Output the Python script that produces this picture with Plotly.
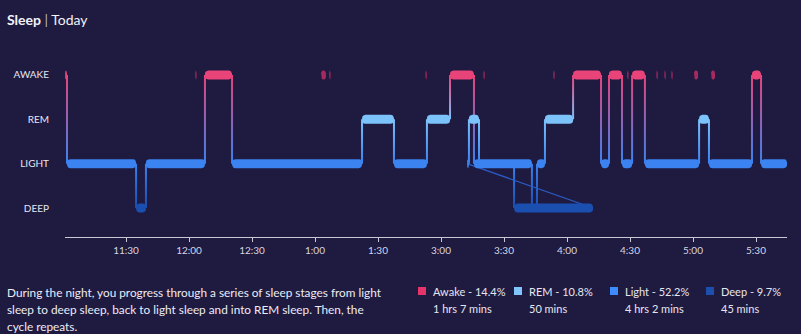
import math
import plotly.graph_objects as go

# ---------------- data ----------------
stage_labels = ["DEEP", "LIGHT", "REM", "AWAKE"]          # y tick labels, bottom -> top
stage_level = {"deep": 0, "light": 1, "rem": 2, "awake": 3}

# time axis: minutes from 11:00 along the plotted axis
tick_minutes = [30, 60, 90, 120, 150, 180, 210, 240, 270, 300, 330]
tick_labels = ["11:30", "12:00", "12:30", "1:00", "1:30", "3:00", "3:30",
               "4:00", "4:30", "5:00", "5:30"]

# hypnogram segments, in recorded order
seg_stage = ["awake", "light", "deep", "light", "awake", "light", "rem", "light",
             "rem", "awake", "light", "deep", "light", "rem", "light", "deep",
             "light", "rem", "awake", "light", "awake", "light", "awake", "light",
             "rem", "light", "awake", "light"]
seg_start = [0.95, 1.9, 34.8, 39.5, 67.6, 80.5, 142.4, 157.6,
             173.3, 184.3, 195.7, 214.8, 192.4, 193.3, 198.1, 223.3,
             225.7, 229.5, 242.9, 256.2, 260.0, 266.2, 271.0, 277.1,
             302.9, 307.6, 328.1, 332.4]
seg_end = [1.9, 34.8, 39.5, 67.6, 80.5, 142.4, 157.6, 173.3,
           184.3, 195.7, 214.8, 252.4, 193.3, 198.1, 223.3, 225.7,
           229.5, 242.9, 256.2, 260.0, 266.2, 271.0, 277.1, 302.9,
           307.6, 328.1, 332.4, 344.8]

# brief awakenings (not connected to the main trace)
blip_start = [63.0, 122.9, 126.8, 172.6, 200.2, 233.5, 268.7, 282.6, 286.4, 289.7, 300.5, 308.6]
blip_end = [63.6, 125.2, 127.4, 173.2, 200.8, 234.1, 269.3, 283.2, 287.0, 290.3, 302.4, 310.5]

# summary
summary_names = ["Awake", "REM", "Light", "Deep"]
summary_pct = ["14.4%", "10.8%", "52.2%", "9.7%"]
summary_time = ["1 hrs 7 mins", "50 mins", "4 hrs 2 mins", "45 mins"]

description = [
    "During the night, you progress through a series of sleep stages from light",
    "sleep to deep sleep, back to light sleep and into REM sleep. Then, the",
    "cycle repeats.",
]

# ---------------- styling ----------------
BG = "#1f1a40"
COLOR = {"awake": "#e8447a", "rem": "#7cc2fb", "light": "#3a83f0", "deep": "#1a4fb0"}
SWATCH = {"Awake": "#e4346a", "REM": "#80c6fc", "Light": "#3d8bff", "Deep": "#1c4fae"}
BLIP_COLOR = "#a8295f"
FONT = "Lato"

W, H = 801, 334
ML, MR, MT, MB = 65, 14, 60, 97
X_RANGE = [0.952, 344.76]
Y_RANGE = [-0.654, 3.338]
PX_PER_X = (W - ML - MR) / (X_RANGE[1] - X_RANGE[0])
PX_PER_Y = (H - MT - MB) / (Y_RANGE[1] - Y_RANGE[0])

BAR_HALF_PX = 4.5
BAR_RADIUS_PX = 3.2
LINK_HALF_PX = 1.0


def rounded_rect(x0, x1, yc, half_h_px, r_px, steps=6):
    hh = half_h_px / PX_PER_Y
    rx = min(r_px / PX_PER_X, (x1 - x0) / 2)
    ry = min(r_px / PX_PER_Y, hh)
    centers = [(x1 - rx, yc + hh - ry, 0), (x0 + rx, yc + hh - ry, 90),
               (x0 + rx, yc - hh + ry, 180), (x1 - rx, yc - hh + ry, 270)]
    xs, ys = [], []
    for cx, cy, a0 in centers:
        for k in range(steps + 1):
            a = math.radians(a0 + 90 * k / steps)
            xs.append(cx + rx * math.cos(a))
            ys.append(cy + ry * math.sin(a))
    xs += [xs[0], None]
    ys += [ys[0], None]
    return xs, ys


def paper_x(px):
    return (px - ML) / (W - ML - MR)


def paper_y(py):
    return (H - MB - py) / (H - MT - MB)


fig = go.Figure()

# ---- transitions between consecutive segments ----
links = {}
jumps = []
for i in range(len(seg_stage) - 1):
    a, b = seg_stage[i], seg_stage[i + 1]
    la, lb = stage_level[a], stage_level[b]
    if abs(seg_end[i] - seg_start[i + 1]) < 1e-6:
        x = seg_end[i]
        lo, hi = min(la, lb), max(la, lb)
        hw = LINK_HALF_PX / PX_PER_X
        xs, ys = links.setdefault((lo, hi), ([], []))
        xs += [x - hw, x + hw, x + hw, x - hw, x - hw, None]
        ys += [lo, lo, hi, hi, lo, None]
    else:
        jumps.append(([seg_end[i], seg_start[i + 1]], [la, lb]))

level_color = {v: COLOR[k] for k, v in stage_level.items()}
for (lo, hi), (xs, ys) in links.items():
    fig.add_trace(go.Scatter(
        x=xs, y=ys, mode="lines", fill="toself", line=dict(width=0),
        fillgradient=dict(type="vertical", start=lo, stop=hi,
                          colorscale=[[0, level_color[lo]], [1, level_color[hi]]]),
        hoverinfo="skip"))

for jx, jy in jumps:
    fig.add_trace(go.Scatter(x=jx, y=jy, mode="lines",
                             line=dict(color="#2b5cc4", width=1.3), hoverinfo="skip"))

# ---- stage bars ----
for stage in ["light", "deep", "rem", "awake"]:
    xs, ys = [], []
    for s, x0, x1 in zip(seg_stage, seg_start, seg_end):
        if s == stage:
            px, py = rounded_rect(x0, x1, stage_level[s], BAR_HALF_PX, BAR_RADIUS_PX)
            xs += px
            ys += py
    fig.add_trace(go.Scatter(x=xs, y=ys, mode="lines", fill="toself",
                             fillcolor=COLOR[stage], line=dict(width=0),
                             hoverinfo="skip"))

# ---- brief awakenings ----
bx, by = [], []
for x0, x1 in zip(blip_start, blip_end):
    px, py = rounded_rect(x0, x1, stage_level["awake"], BAR_HALF_PX, 2.5)
    bx += px
    by += py
fig.add_trace(go.Scatter(x=bx, y=by, mode="lines", fill="toself",
                         fillcolor=BLIP_COLOR, line=dict(width=0), hoverinfo="skip"))

# ---- text ----
annotations = [dict(
    text="<b>Sleep</b> <span style='color:#b8b8cc'>|</span> Today",
    xref="paper", yref="paper", x=paper_x(5), y=paper_y(19),
    xanchor="left", yanchor="middle", showarrow=False,
    font=dict(family=FONT, size=14, color="#f2f2f8"))]

for k, line in enumerate(description):
    annotations.append(dict(
        text=line, xref="paper", yref="paper", x=paper_x(5), y=paper_y(292 + 17.3 * k),
        xanchor="left", yanchor="middle", showarrow=False,
        font=dict(family=FONT, size=11.8, color="#ececf4")))

shapes = []
for k, name in enumerate(summary_names):
    sx = 418 + 96 * k
    shapes.append(dict(type="rect", xref="paper", yref="paper",
                       x0=paper_x(sx), x1=paper_x(sx + 8),
                       y0=paper_y(295), y1=paper_y(287),
                       fillcolor=SWATCH[name], line=dict(width=0)))
    annotations.append(dict(
        text=f"{name} - {summary_pct[k]}", xref="paper", yref="paper",
        x=paper_x(sx + 13), y=paper_y(291), xanchor="left", yanchor="middle",
        showarrow=False, font=dict(family=FONT, size=11, color="#e6e6f0")))
    annotations.append(dict(
        text=summary_time[k], xref="paper", yref="paper",
        x=paper_x(sx + 13), y=paper_y(308.5), xanchor="left", yanchor="middle",
        showarrow=False, font=dict(family=FONT, size=11, color="#e6e6f0")))

fig.update_layout(
    width=W, height=H,
    margin=dict(l=ML, r=MR, t=MT, b=MB, pad=0),
    paper_bgcolor=BG, plot_bgcolor=BG,
    showlegend=False,
    font=dict(family=FONT, color="#e4e4ee"),
    annotations=annotations,
    shapes=shapes,
    xaxis=dict(range=X_RANGE, showgrid=False, zeroline=False,
               showline=True, linecolor="#c9c9d6", linewidth=1,
               ticks="outside", ticklen=4, tickwidth=1, tickcolor="#c9c9d6",
               tickvals=tick_minutes, ticktext=tick_labels,
               tickfont=dict(family=FONT, size=10, color="#d6d6e2"),
               fixedrange=True),
    yaxis=dict(range=Y_RANGE, showgrid=False, zeroline=False, showline=False,
               tickvals=[0, 1, 2, 3], ticktext=stage_labels, ticks="",
               ticklabelstandoff=15,
               tickfont=dict(family=FONT, size=10, color="#e6e6f0"),
               fixedrange=True),
)

fig.write_html("out.html")
